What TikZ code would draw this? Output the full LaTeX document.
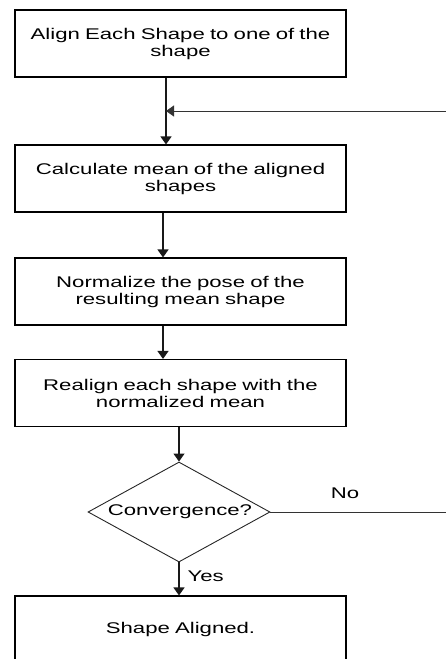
\documentclass[tikz,border=0pt]{standalone}
\usepackage{fontspec}
\setmainfont[FakeStretch=1.43]{Liberation Sans}
\usetikzlibrary{shapes.geometric,arrows.meta}
\begin{document}
\begin{tikzpicture}[x=1pt,y=-1pt,
  txt/.style={font=\fontsize{15.5}{17}\selectfont},
  proc/.style={draw=black, line width=1.1pt, minimum width=331pt, minimum height=67pt,
    text width=325pt, align=center, inner sep=0pt, txt},
  dec/.style={draw=black!85, diamond, line width=0.9pt, minimum width=182pt,
    minimum height=100pt, inner sep=0pt},
  tip/.style={-{Triangle[length=8pt,width=11pt]}},
  arr/.style={line width=1.1pt, draw=black!90, tip},
  ln/.style={line width=0.9pt, draw=black!80, tip}]
\useasboundingbox (0,0) rectangle (446,659);
\node[proc] (b1) at (180.5,43.5) {Align Each Shape to one of the\\shape};
\node[proc] (b2) at (180.5,178.5) {Calculate mean of the aligned\\shapes};
\node[proc] (b3) at (180.5,291.5) {Normalize the pose of the\\resulting mean shape};
\node[proc] (b4) at (180.5,393) {Realign each shape with the\\normalized mean};
\node[dec] (d) at (179,512) {};
\node[txt] (dt) at (180,512) {Convergence?};
\node[proc] (b5) at (180.5,629.5) {Shape Aligned.};
\node[txt] (no) at (345,493) {No};
\node[txt, anchor=west] (yes) at (184,576) {Yes};
\coordinate (join) at (166,111);
\coordinate (r1) at (449,512);
\coordinate (r2) at (449,111);
\draw[arr] ([xshift=-14.5pt]b1.south) -- ([xshift=-14.5pt]b2.north);
\draw[arr] ([xshift=-17.5pt]b2.south) -- ([xshift=-17.5pt]b3.north);
\draw[arr] ([xshift=-17.5pt]b3.south) -- ([xshift=-17.5pt]b4.north);
\draw[arr] ([xshift=-1.5pt]b4.south) -- (d.north);
\draw[arr] (d.south) -- ([xshift=-1.5pt]b5.north);
\draw[ln] (d.east) -- (r1) -- (r2) -- (join);
\end{tikzpicture}
\end{document}
